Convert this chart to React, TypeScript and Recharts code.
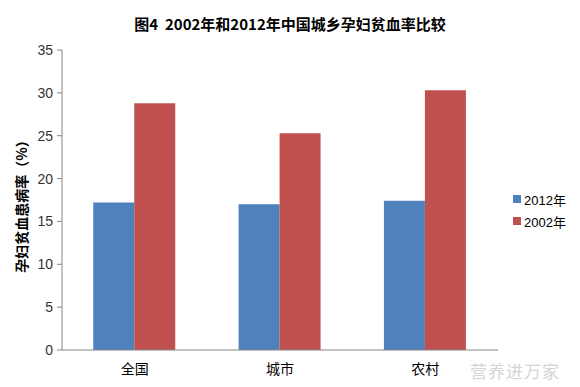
import React from 'react';
import { BarChart, Bar, XAxis, YAxis, Legend } from 'recharts';

const categories = ['全国', '城市', '农村'];
const series2012 = [17.2, 17.0, 17.4];
const series2002 = [28.8, 25.3, 30.3];
const seriesNames = ['2012年', '2002年'];
const yTicks = [0, 5, 10, 15, 20, 25, 30, 35];

const data = categories.map((c, i) => ({ name: c, s2012: series2012[i], s2002: series2002[i] }));

const FONT = '"Liberation Sans", "Noto Sans CJK SC", sans-serif';
const CJK = '"Noto Sans CJK SC", sans-serif';

const LegendContent = (props: any) => {
  const payload = [...(props.payload || [])].sort(
    (a: any, b: any) => seriesNames.indexOf(a.value) - seriesNames.indexOf(b.value)
  );
  return (
    <div style={{ fontFamily: FONT, fontSize: 13, color: '#000' }}>
      {payload.map((p: any) => (
        <div key={p.value} style={{ display: 'flex', alignItems: 'center', height: 22, paddingLeft: 15 }}>
          <span style={{ display: 'inline-block', width: 8, height: 8, background: p.color, marginRight: 3 }} />
          <span>{p.value}</span>
        </div>
      ))}
    </div>
  );
};

export default function App() {
  return (
    <div style={{ position: 'absolute', left: 0, top: 0, width: 580, height: 387, background: '#fff' }}>
      <div
        style={{
          position: 'absolute',
          left: 0,
          top: 13,
          width: 580,
          textAlign: 'center',
          fontFamily: CJK,
          fontWeight: 'bold',
          fontSize: 15,
          color: '#000',
          zIndex: 2,
        }}
      >
        图4&nbsp;&nbsp;2002年和2012年中国城乡孕妇贫血率比较
      </div>
      <BarChart
        width={580}
        height={387}
        data={data}
        margin={{ top: 50, right: 12, bottom: 7, left: 0 }}
        barGap={0}
        barCategoryGap="21.5%"
      >
        <XAxis
          dataKey="name"
          height={30}
          tickLine={false}
          axisLine={{ stroke: '#868686' }}
          tick={{ fill: '#000', fontSize: 14, fontFamily: CJK }}
          tickMargin={8}
        />
        <YAxis
          domain={[0, 35]}
          ticks={yTicks}
          width={62}
          interval={0}
          axisLine={{ stroke: '#868686' }}
          tickLine={{ stroke: '#868686' }}
          tickSize={5}
          tickMargin={4}
          tick={{ fill: '#333', fontSize: 14, fontFamily: FONT }}
          label={{
            value: '孕妇贫血患病率（%）',
            angle: -90,
            position: 'center',
            dx: -9,
            dy: 3,
            style: { fontFamily: CJK, fontWeight: 'bold', fontSize: 14, fill: '#000' },
          }}
        />
        <Legend
          layout="vertical"
          align="right"
          verticalAlign="middle"
          content={<LegendContent />}
          wrapperStyle={{ width: 70, top: 188 }}
        />
        <Bar dataKey="s2012" name={seriesNames[0]} fill="#4F81BD" isAnimationActive={false} />
        <Bar dataKey="s2002" name={seriesNames[1]} fill="#C0504D" isAnimationActive={false} />
      </BarChart>
      <div
        style={{
          position: 'absolute',
          left: 470,
          top: 358,
          fontFamily: CJK,
          fontSize: 17,
          color: '#d4d4d4',
          letterSpacing: 1,
        }}
      >
        营养进万家
      </div>
    </div>
  );
}
